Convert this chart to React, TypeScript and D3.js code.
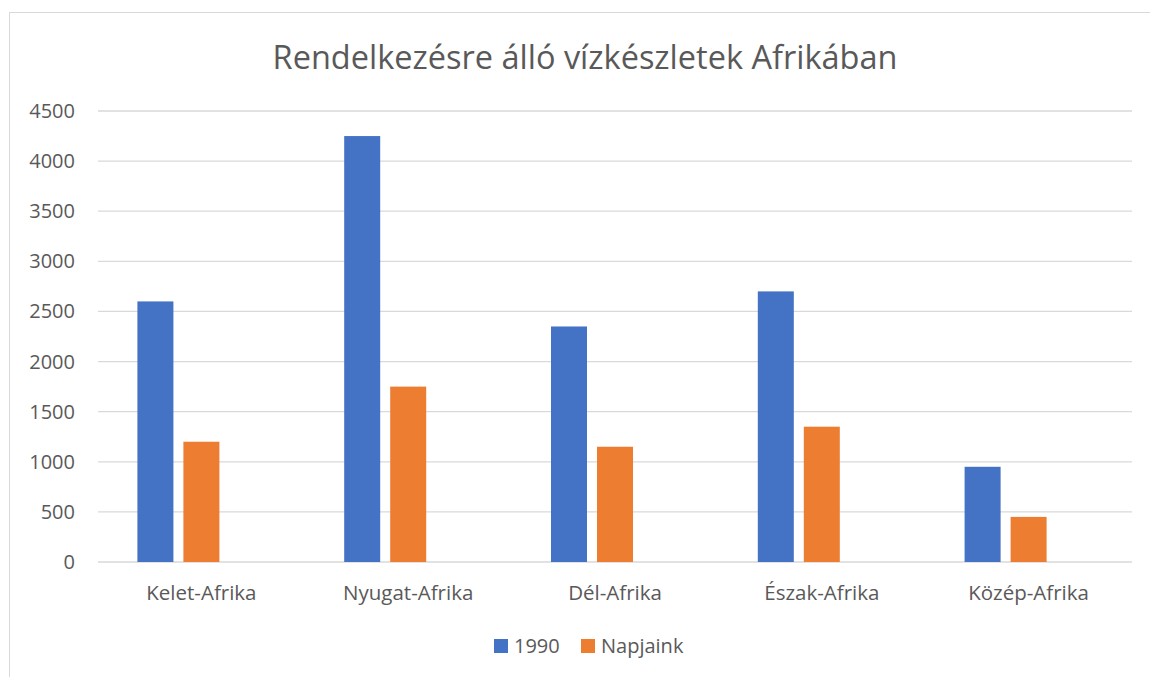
import React from "react"
import * as d3 from "d3"

const WIDTH = 1150
const HEIGHT = 677

const categories = ["Kelet-Afrika", "Nyugat-Afrika", "Dél-Afrika", "Észak-Afrika", "Közép-Afrika"]
const values1990 = [2600, 4250, 2350, 2700, 950]
const valuesNow = [1200, 1750, 1150, 1350, 450]
const yTicks = [0, 500, 1000, 1500, 2000, 2500, 3000, 3500, 4000, 4500]
const seriesNames = ["1990", "Napjaink"]
// Excel leaves room for a third (empty) series slot in each cluster
const slots = ["1990", "Napjaink", "empty"]

const COLORS = ["#4472C4", "#ED7D31"]
const TEXT = "#595959"
const GRID = "#d9d9d9"
const FONT = "'Open Sans', 'Noto Sans', sans-serif"

const margin = { top: 111, right: 18, bottom: 115, left: 98 }

const App = () => {
	const plotW = WIDTH - margin.left - margin.right
	const plotH = HEIGHT - margin.top - margin.bottom

	const x = d3.scaleBand<string>().domain(categories).range([0, plotW]).paddingInner(0).paddingOuter(0)
	// inner: 36px bars with 10px gaps, ~39px padding on each side of a cluster
	const x1 = d3.scaleBand<string>().domain(slots).range([39.4, x.bandwidth() - 39.4]).paddingInner(10 / 46)
	const y = d3.scaleLinear().domain([0, 4500]).range([plotH, 0])

	const series = [values1990, valuesNow]

	return (
		<div style={{ position: "absolute", left: 0, top: 0 }}>
			<svg width={WIDTH} height={HEIGHT} style={{ display: "block", background: "#fff" }}>
				<rect x={9.5} y={12.5} width={WIDTH} height={HEIGHT} fill="#fff" stroke={GRID} strokeWidth={1} />

				<text
					x={585}
					y={69}
					textAnchor="middle"
					fontFamily={FONT}
					fontSize={32.5}
					fill={TEXT}
				>
					Rendelkezésre álló vízkészletek Afrikában
				</text>

				<g transform={`translate(${margin.left},${margin.top})`}>
					{yTicks.map((t) => (
						<g key={t}>
							<line x1={0} x2={plotW} y1={y(t)} y2={y(t)} stroke={GRID} strokeWidth={1.3} />
							<text
								x={-23}
								y={y(t)}
								dy="0.35em"
								textAnchor="end"
								fontFamily={FONT}
								fontSize={20}
								fill={TEXT}
							>
								{t}
							</text>
						</g>
					))}

					{categories.map((c, i) => (
						<g key={c} transform={`translate(${x(c)},0)`}>
							{series.map((vals, s) => (
								<rect
									key={s}
									x={x1(slots[s])}
									y={y(vals[i])}
									width={x1.bandwidth()}
									height={plotH - y(vals[i])}
									fill={COLORS[s]}
								/>
							))}
							<text
								x={x.bandwidth() / 2}
								y={plotH + 31}
								dy="0.35em"
								textAnchor="middle"
								fontFamily={FONT}
								fontSize={20.5}
								fill={TEXT}
							>
								{c}
							</text>
						</g>
					))}
				</g>

				<g transform="translate(494,639)">
					{seriesNames.map((n, i) => (
						<g key={n} transform={`translate(${i * 87},0)`}>
							<rect x={0} y={0} width={14} height={14} fill={COLORS[i]} />
							<text x={20} y={7} dy="0.35em" fontFamily={FONT} fontSize={20} fill={TEXT}>
								{n}
							</text>
						</g>
					))}
				</g>
			</svg>
		</div>
	)
}

export default App
